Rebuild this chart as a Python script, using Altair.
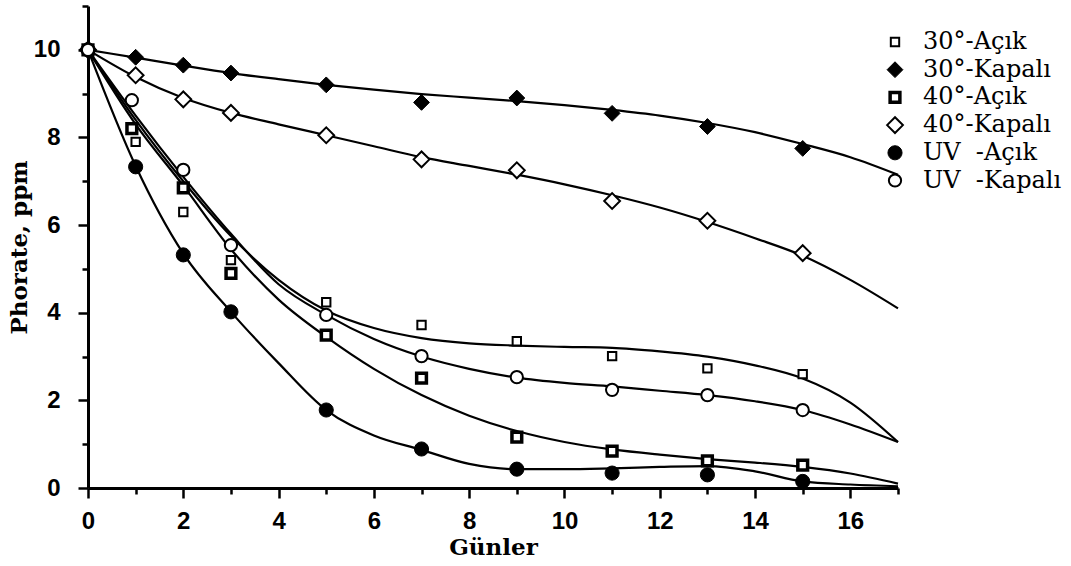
import altair as alt
import pandas as pd

series = ["30°-Açık", "30°-Kapalı", "40°-Açık", "40°-Kapalı",
          "UV\u00a0\u00a0-Açık", "UV\u00a0\u00a0-Kapalı"]

# measured days for each series (points)
days_a = [0, 1, 2, 3, 5, 7, 9, 11, 13, 15]
days_b = [0, 0.92, 2, 3, 5, 7, 9, 11, 13, 15]

pts_30_acik = [10, 7.9, 6.3, 5.2, 4.24, 3.72, 3.35, 3.01, 2.73, 2.6]
pts_30_kapali = [10, 9.83, 9.65, 9.47, 9.2, 8.8, 8.9, 8.55, 8.25, 7.75]
pts_40_acik = [10, 8.2, 6.85, 4.9, 3.49, 2.51, 1.16, 0.84, 0.62, 0.52]
pts_40_kapali = [10, 9.42, 8.87, 8.56, 8.05, 7.5, 7.25, 6.55, 6.1, 5.36]
pts_uv_acik = [10, 7.33, 5.32, 4.02, 1.78, 0.89, 0.43, 0.34, 0.3, 0.15]
pts_uv_kapali = [10, 8.85, 7.26, 5.54, 3.95, 3.01, 2.53, 2.24, 2.12, 1.78]

# fitted curves read at each day 0..17
curve_days = list(range(18))
fit_30_acik = [10, 8.4, 7.0, 5.75, 4.75, 4.05, 3.65, 3.42, 3.3, 3.25, 3.22, 3.2, 3.12, 3.0, 2.8, 2.5, 1.95, 1.05]
fit_30_kapali = [10, 9.82, 9.64, 9.47, 9.33, 9.2, 9.09, 8.99, 8.91, 8.83, 8.74, 8.63, 8.5, 8.33, 8.12, 7.85, 7.55, 7.15]
fit_40_acik = [10, 8.3, 6.9, 5.45, 4.3, 3.45, 2.72, 2.12, 1.65, 1.3, 1.05, 0.88, 0.76, 0.66, 0.58, 0.48, 0.33, 0.1]
fit_40_kapali = [10, 9.38, 8.9, 8.56, 8.3, 8.05, 7.8, 7.55, 7.35, 7.15, 6.93, 6.68, 6.4, 6.07, 5.7, 5.3, 4.75, 4.1]
fit_uv_acik = [10, 7.35, 5.35, 4.02, 2.85, 1.78, 1.2, 0.87, 0.55, 0.43, 0.43, 0.45, 0.48, 0.5, 0.38, 0.15, 0.08, 0.04]
fit_uv_kapali = [10, 8.5, 7.1, 5.8, 4.65, 3.95, 3.4, 3.0, 2.72, 2.52, 2.4, 2.32, 2.22, 2.12, 1.98, 1.78, 1.45, 1.05]

x_ticks = list(range(18))
y_ticks = list(range(12))

shapes = ["square", "diamond", "square", "diamond", "circle", "circle"]
fills = ["white", "black", "white", "white", "black", "white"]
strokes = ["black"] * 6
sizes = [70, 250, 95, 250, 200, 150]
stroke_widths = [2, 1, 3.5, 2, 1, 2]

pt_sets = [(days_a, pts_30_acik), (days_a, pts_30_kapali), (days_b, pts_40_acik),
           (days_a, pts_40_kapali), (days_a, pts_uv_acik), (days_b, pts_uv_kapali)]
fit_sets = [fit_30_acik, fit_30_kapali, fit_40_acik, fit_40_kapali, fit_uv_acik, fit_uv_kapali]

pt_rows = []
for s, (d, v) in zip(series, pt_sets):
    for xi, yi in zip(d, v):
        pt_rows.append({"series": s, "day": xi, "value": yi})
pts = pd.DataFrame(pt_rows)

fit_rows = []
for s, v in zip(series, fit_sets):
    for xi, yi in zip(curve_days, v):
        fit_rows.append({"series": s, "day": xi, "value": yi})
fit = pd.DataFrame(fit_rows)

x_scale = alt.Scale(domain=[0, 17], nice=False, zero=False)
y_scale = alt.Scale(domain=[0, 11], nice=False, zero=False)

tick_cond = {"condition": {"test": "datum.value % 2 === 0", "value": 10}, "value": 6}

x_axis = alt.Axis(values=x_ticks, labelExpr="datum.value % 2 === 0 ? datum.label : ''",
                  tickSize=tick_cond, title="Günler", labelPadding=11, titlePadding=3,
                  labelFlush=False, labelOverlap=False)
y_axis = alt.Axis(values=y_ticks, labelExpr="datum.value % 2 === 0 ? datum.label : ''",
                  tickSize=tick_cond, title="Phorate, ppm", labelPadding=18, titlePadding=2,
                  labelFlush=False, labelOverlap=False)

legend = alt.Legend(title=None, orient="none", legendX=795, legendY=24,
                    labelFont="DejaVu Serif", labelFontSize=24, labelColor="black",
                    symbolStrokeColor="black", rowPadding=3.7, labelOffset=16, padding=0)

lines = alt.Chart(fit).mark_line(color="black", strokeWidth=2.2, interpolate="monotone").encode(
    x=alt.X("day:Q", scale=x_scale, axis=x_axis),
    y=alt.Y("value:Q", scale=y_scale, axis=y_axis),
    detail="series:N",
)

points = alt.Chart(pts).mark_point(filled=True, opacity=1).encode(
    x=alt.X("day:Q", scale=x_scale),
    y=alt.Y("value:Q", scale=y_scale),
    shape=alt.Shape("series:N", scale=alt.Scale(domain=series, range=shapes), legend=legend),
    fill=alt.Fill("series:N", scale=alt.Scale(domain=series, range=fills), legend=legend),
    stroke=alt.Stroke("series:N", scale=alt.Scale(domain=series, range=strokes), legend=legend),
    size=alt.Size("series:N", scale=alt.Scale(type="ordinal", domain=series, range=sizes), legend=legend),
    strokeWidth=alt.StrokeWidth("series:N", scale=alt.Scale(type="ordinal", domain=series, range=stroke_widths), legend=legend),
)

chart = alt.layer(lines, points).properties(
    width=810, height=482,
    background="white",
    autosize=alt.AutoSizeParams(type="none"),
    padding={"left": 88, "top": 6, "right": 173, "bottom": 78},
).configure_view(stroke=None).configure_axis(
    grid=False, domainColor="black", domainWidth=3, tickColor="black", tickWidth=2.5,
    labelColor="black", labelFont="Liberation Sans", labelFontWeight="bold", labelFontSize=24,
    titleColor="black", titleFont="DejaVu Serif", titleFontWeight="bold", titleFontSize=23,
)

chart.save("out.html", embed_options={"renderer": "svg", "actions": False})
